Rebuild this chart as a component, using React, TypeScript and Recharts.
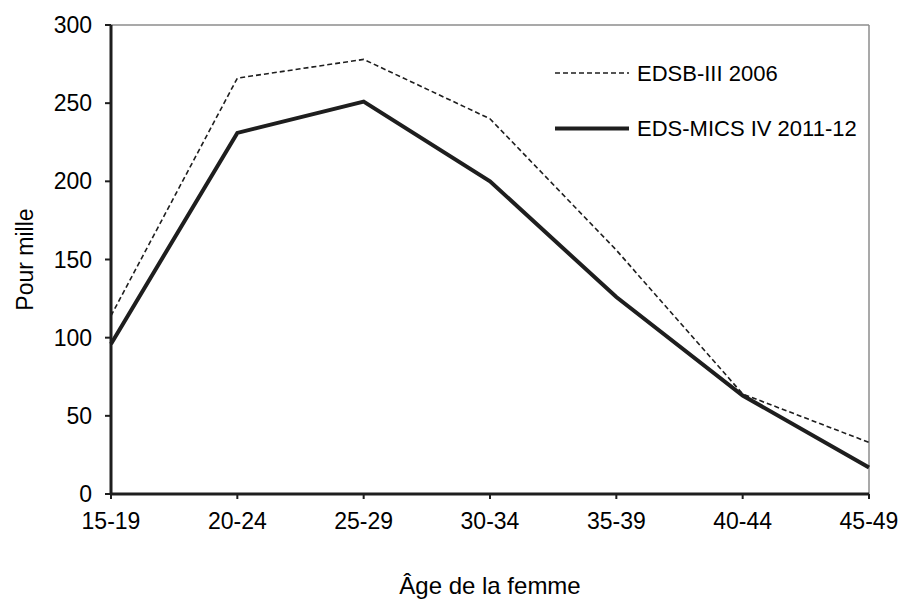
import { LineChart, Line, XAxis, YAxis, ReferenceLine } from 'recharts';

const ages = ['15-19', '20-24', '25-29', '30-34', '35-39', '40-44', '45-49'];
const edsb2006 = [114, 266, 278, 240, 156, 64, 33];
const edsMics2011 = [96, 231, 251, 200, 126, 63, 17];
const yTicks = [0, 50, 100, 150, 200, 250, 300];

const series = [
  { key: 'edsb', name: 'EDSB-III 2006', width: 1.6, dash: '5 3' },
  { key: 'mics', name: 'EDS-MICS IV 2011-12', width: 4, dash: undefined as string | undefined }
];

const data = ages.map((age, i) => ({
  age,
  edsb: edsb2006[i],
  mics: edsMics2011[i]
}));

const FONT = '"Liberation Sans", Arial, sans-serif';
const INK = '#1e1e1e';

function LegendBox() {
  return (
    <svg width={330} height={100} style={{ display: 'block', fontFamily: FONT }}>
      {series.map((s, i) => (
        <g key={s.key} transform={`translate(0, ${15 + i * 55.5})`}>
          <line x1={0} x2={74} y1={0} y2={0} stroke={INK} strokeWidth={s.width} strokeDasharray={s.dash} />
          <text x={82} y={0} dy="0.35em" fontSize={22} fill="#000">
            {s.name}
          </text>
        </g>
      ))}
    </svg>
  );
}

export default function App() {
  return (
    <div style={{ position: 'absolute', left: 0, top: 0, width: 900, height: 606, background: '#fff' }}>
      <LineChart
        width={900}
        height={606}
        data={data}
        margin={{ top: 25, right: 31, left: 41, bottom: 82 }}
        style={{ fontFamily: FONT }}
      >
        <XAxis
          dataKey="age"
          height={30}
          tickSize={5}
          tickMargin={14}
          axisLine={{ stroke: INK, strokeWidth: 3 }}
          tickLine={{ stroke: INK, strokeWidth: 2 }}
          tick={{ fontSize: 23, fill: '#000' }}
          interval={0}
          label={{ value: 'Âge de la femme', position: 'bottom', offset: 53, fontSize: 24, fill: '#000' }}
        />
        <YAxis
          width={70}
          domain={[0, 300]}
          ticks={yTicks}
          tickSize={6}
          tickMargin={13}
          axisLine={{ stroke: INK, strokeWidth: 3 }}
          tickLine={{ stroke: INK, strokeWidth: 2 }}
          tick={{ fontSize: 23, fill: '#000' }}
          label={{
            value: 'Pour mille',
            content: ({ viewBox }: any) => {
              const cy = viewBox.y + viewBox.height / 2;
              const cx = 33;
              return (
                <text x={cx} y={cy} textAnchor="middle" fontSize={23} fill="#000" transform={`rotate(-90, ${cx}, ${cy})`}>
                  Pour mille
                </text>
              );
            }
          }}
        />
        <ReferenceLine y={300} stroke="#8c8c8c" strokeWidth={1.5} />
        <ReferenceLine x="45-49" stroke="#8c8c8c" strokeWidth={1.5} />
        {series.map((s) => (
          <Line
            key={s.key}
            dataKey={s.key}
            name={s.name}
            stroke={INK}
            strokeWidth={s.width}
            strokeDasharray={s.dash}
            dot={false}
            activeDot={false}
            isAnimationActive={false}
          />
        ))}
      </LineChart>
      <div style={{ position: 'absolute', left: 555, top: 58 }}>
        <LegendBox />
      </div>
    </div>
  );
}
